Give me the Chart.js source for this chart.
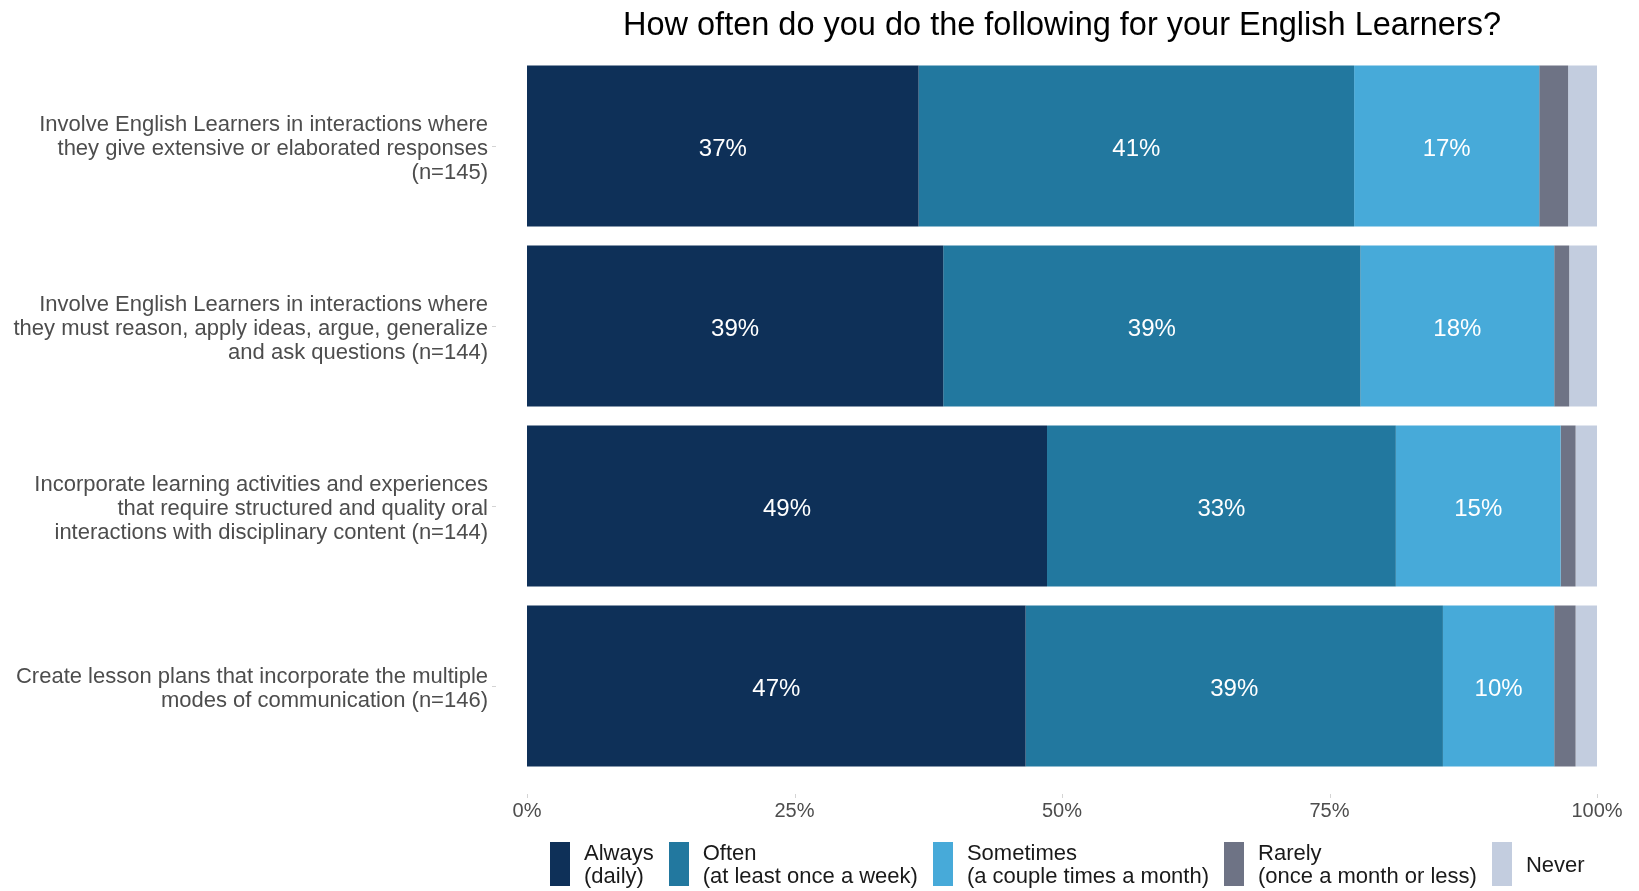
<!DOCTYPE html>
<html>
<head>
<meta charset="utf-8">
<script src="https://cdn.jsdelivr.net/npm/chart.js@4.4.1/dist/chart.umd.min.js"></script>
<style>
  html, body { margin: 0; padding: 0; background: #ffffff; }
  #wrap { position: relative; width: 1639px; height: 891px; }
  #legend {
    position: absolute; top: 842px; left: 550px; height: 44px;
    display: flex; align-items: center;
    font-family: "Liberation Sans", Arial, sans-serif; font-size: 22px; color: #1a1a1a;
  }
  .item { display: flex; align-items: center; height: 44px; margin-right: 15px; }
  .key { width: 20px; height: 44px; margin-right: 14px; }
  .txt { line-height: 23px; white-space: nowrap; }
</style>
</head>
<body>
<div id="wrap">
  <canvas id="chart" width="1639" height="891"></canvas>
  <div id="legend"></div>
</div>
<script>
// Survey items (y axis), one multi-line label per item
const categories = [
  ["Involve English Learners in interactions where", "they give extensive or elaborated responses", "(n=145)"],
  ["Involve English Learners in interactions where", "they must reason, apply ideas, argue, generalize", "and ask questions (n=144)"],
  ["Incorporate learning activities and experiences", "that require structured and quality oral", "interactions with disciplinary content (n=144)"],
  ["Create lesson plans that incorporate the multiple", "modes of communication (n=146)"]
];

// Response frequencies, percent of respondents per item
const always    = [36.6, 38.9, 48.6, 46.6];
const often     = [40.7, 39.0, 32.6, 39.0];
const sometimes = [17.3, 18.1, 15.4, 10.4];
const rarely    = [2.7, 1.4, 1.4, 2.0];
const never     = [2.7, 2.6, 2.0, 2.0];

const seriesNames = [
  ["Always", "(daily)"],
  ["Often", "(at least once a week)"],
  ["Sometimes", "(a couple times a month)"],
  ["Rarely", "(once a month or less)"],
  ["Never"]
];
const seriesColors = ["#0e3058", "#22789f", "#47aad9", "#6e7385", "#c3cddf"];
const labelledSeries = [0, 1, 2];

const xTicks = [0, 25, 50, 75, 100];
const titleText = "How often do you do the following for your English Learners?";

const FONT = "'Liberation Sans', Arial, sans-serif";

const seriesData = [always, often, sometimes, rarely, never];
const datasets = seriesData.map((vals, i) => ({
  label: seriesNames[i].join(" "),
  data: vals,
  backgroundColor: seriesColors[i],
  borderWidth: 0,
  barPercentage: 0.894,
  categoryPercentage: 1.0
}));

// Percent labels centred in the larger segments
const segmentLabels = {
  id: "segmentLabels",
  afterDatasetsDraw(chart) {
    const ctx = chart.ctx;
    ctx.save();
    ctx.fillStyle = "#ffffff";
    ctx.font = "24px " + FONT;
    ctx.textAlign = "center";
    ctx.textBaseline = "middle";
    labelledSeries.forEach(di => {
      const meta = chart.getDatasetMeta(di);
      meta.data.forEach((bar, j) => {
        const v = chart.data.datasets[di].data[j];
        const p = bar.getCenterPoint();
        ctx.fillText(Math.round(v) + "%", p.x, p.y + 3);
      });
    });
    ctx.restore();
  }
};

// Title centred over the plotting area, plus the small axis tick marks
const decorations = {
  id: "decorations",
  afterDraw(chart) {
    const ctx = chart.ctx;
    const a = chart.chartArea;
    ctx.save();
    ctx.fillStyle = "#000000";
    ctx.font = "32.5px " + FONT;
    ctx.textAlign = "center";
    ctx.textBaseline = "middle";
    ctx.fillText(titleText, (a.left + a.right) / 2, 26);

    ctx.strokeStyle = "#d4d4d4";
    ctx.lineWidth = 1;
    const xs = chart.scales.x;
    xTicks.forEach(t => {
      const x = Math.round(xs.getPixelForValue(t)) + 0.5;
      ctx.beginPath();
      ctx.moveTo(x, a.bottom + 18);
      ctx.lineTo(x, a.bottom + 22);
      ctx.stroke();
    });
    const ys = chart.scales.y;
    categories.forEach((c, i) => {
      const y = Math.round(ys.getPixelForValue(i)) + 0.5;
      ctx.beginPath();
      ctx.moveTo(a.left - 35, y);
      ctx.lineTo(a.left - 31, y);
      ctx.stroke();
    });
    ctx.restore();
  }
};

function zeroPadding(s) {
  s.paddingTop = 0; s.paddingBottom = 0; s.paddingLeft = 0; s.paddingRight = 0;
}

new Chart(document.getElementById("chart"), {
  type: "bar",
  data: { labels: categories, datasets },
  options: {
    indexAxis: "y",
    responsive: false,
    animation: false,
    layout: { padding: { top: 56, right: 42, left: 0, bottom: 0 } },
    plugins: {
      legend: { display: false },
      tooltip: { enabled: false },
      title: { display: false }
    },
    scales: {
      x: {
        stacked: true,
        min: 0, max: 100,
        afterBuildTicks: s => { s.ticks = xTicks.map(v => ({ value: v })); },
        afterFit: s => { s.height = 115; zeroPadding(s); },
        grid: { display: false, drawTicks: false },
        border: { display: false },
        ticks: {
          padding: 23,
          color: "#4d4d4d",
          font: { family: FONT, size: 20 },
          callback: v => v + "%",
          maxRotation: 0
        }
      },
      y: {
        stacked: true,
        afterFit: s => { s.width = 527; zeroPadding(s); },
        grid: { display: false, drawTicks: false },
        border: { display: false },
        ticks: {
          padding: 39,
          labelOffset: 3,
          color: "#4d4d4d",
          font: { family: FONT, size: 22, lineHeight: 1.1 }
        }
      }
    }
  },
  plugins: [segmentLabels, decorations]
});

// Legend: colour keys with two-line descriptions
const legend = document.getElementById("legend");
seriesNames.forEach((name, i) => {
  const item = document.createElement("div");
  item.className = "item";
  const key = document.createElement("div");
  key.className = "key";
  key.style.background = seriesColors[i];
  const txt = document.createElement("div");
  txt.className = "txt";
  txt.innerHTML = name.join("<br>");
  item.appendChild(key);
  item.appendChild(txt);
  legend.appendChild(item);
});
</script>
</body>
</html>
